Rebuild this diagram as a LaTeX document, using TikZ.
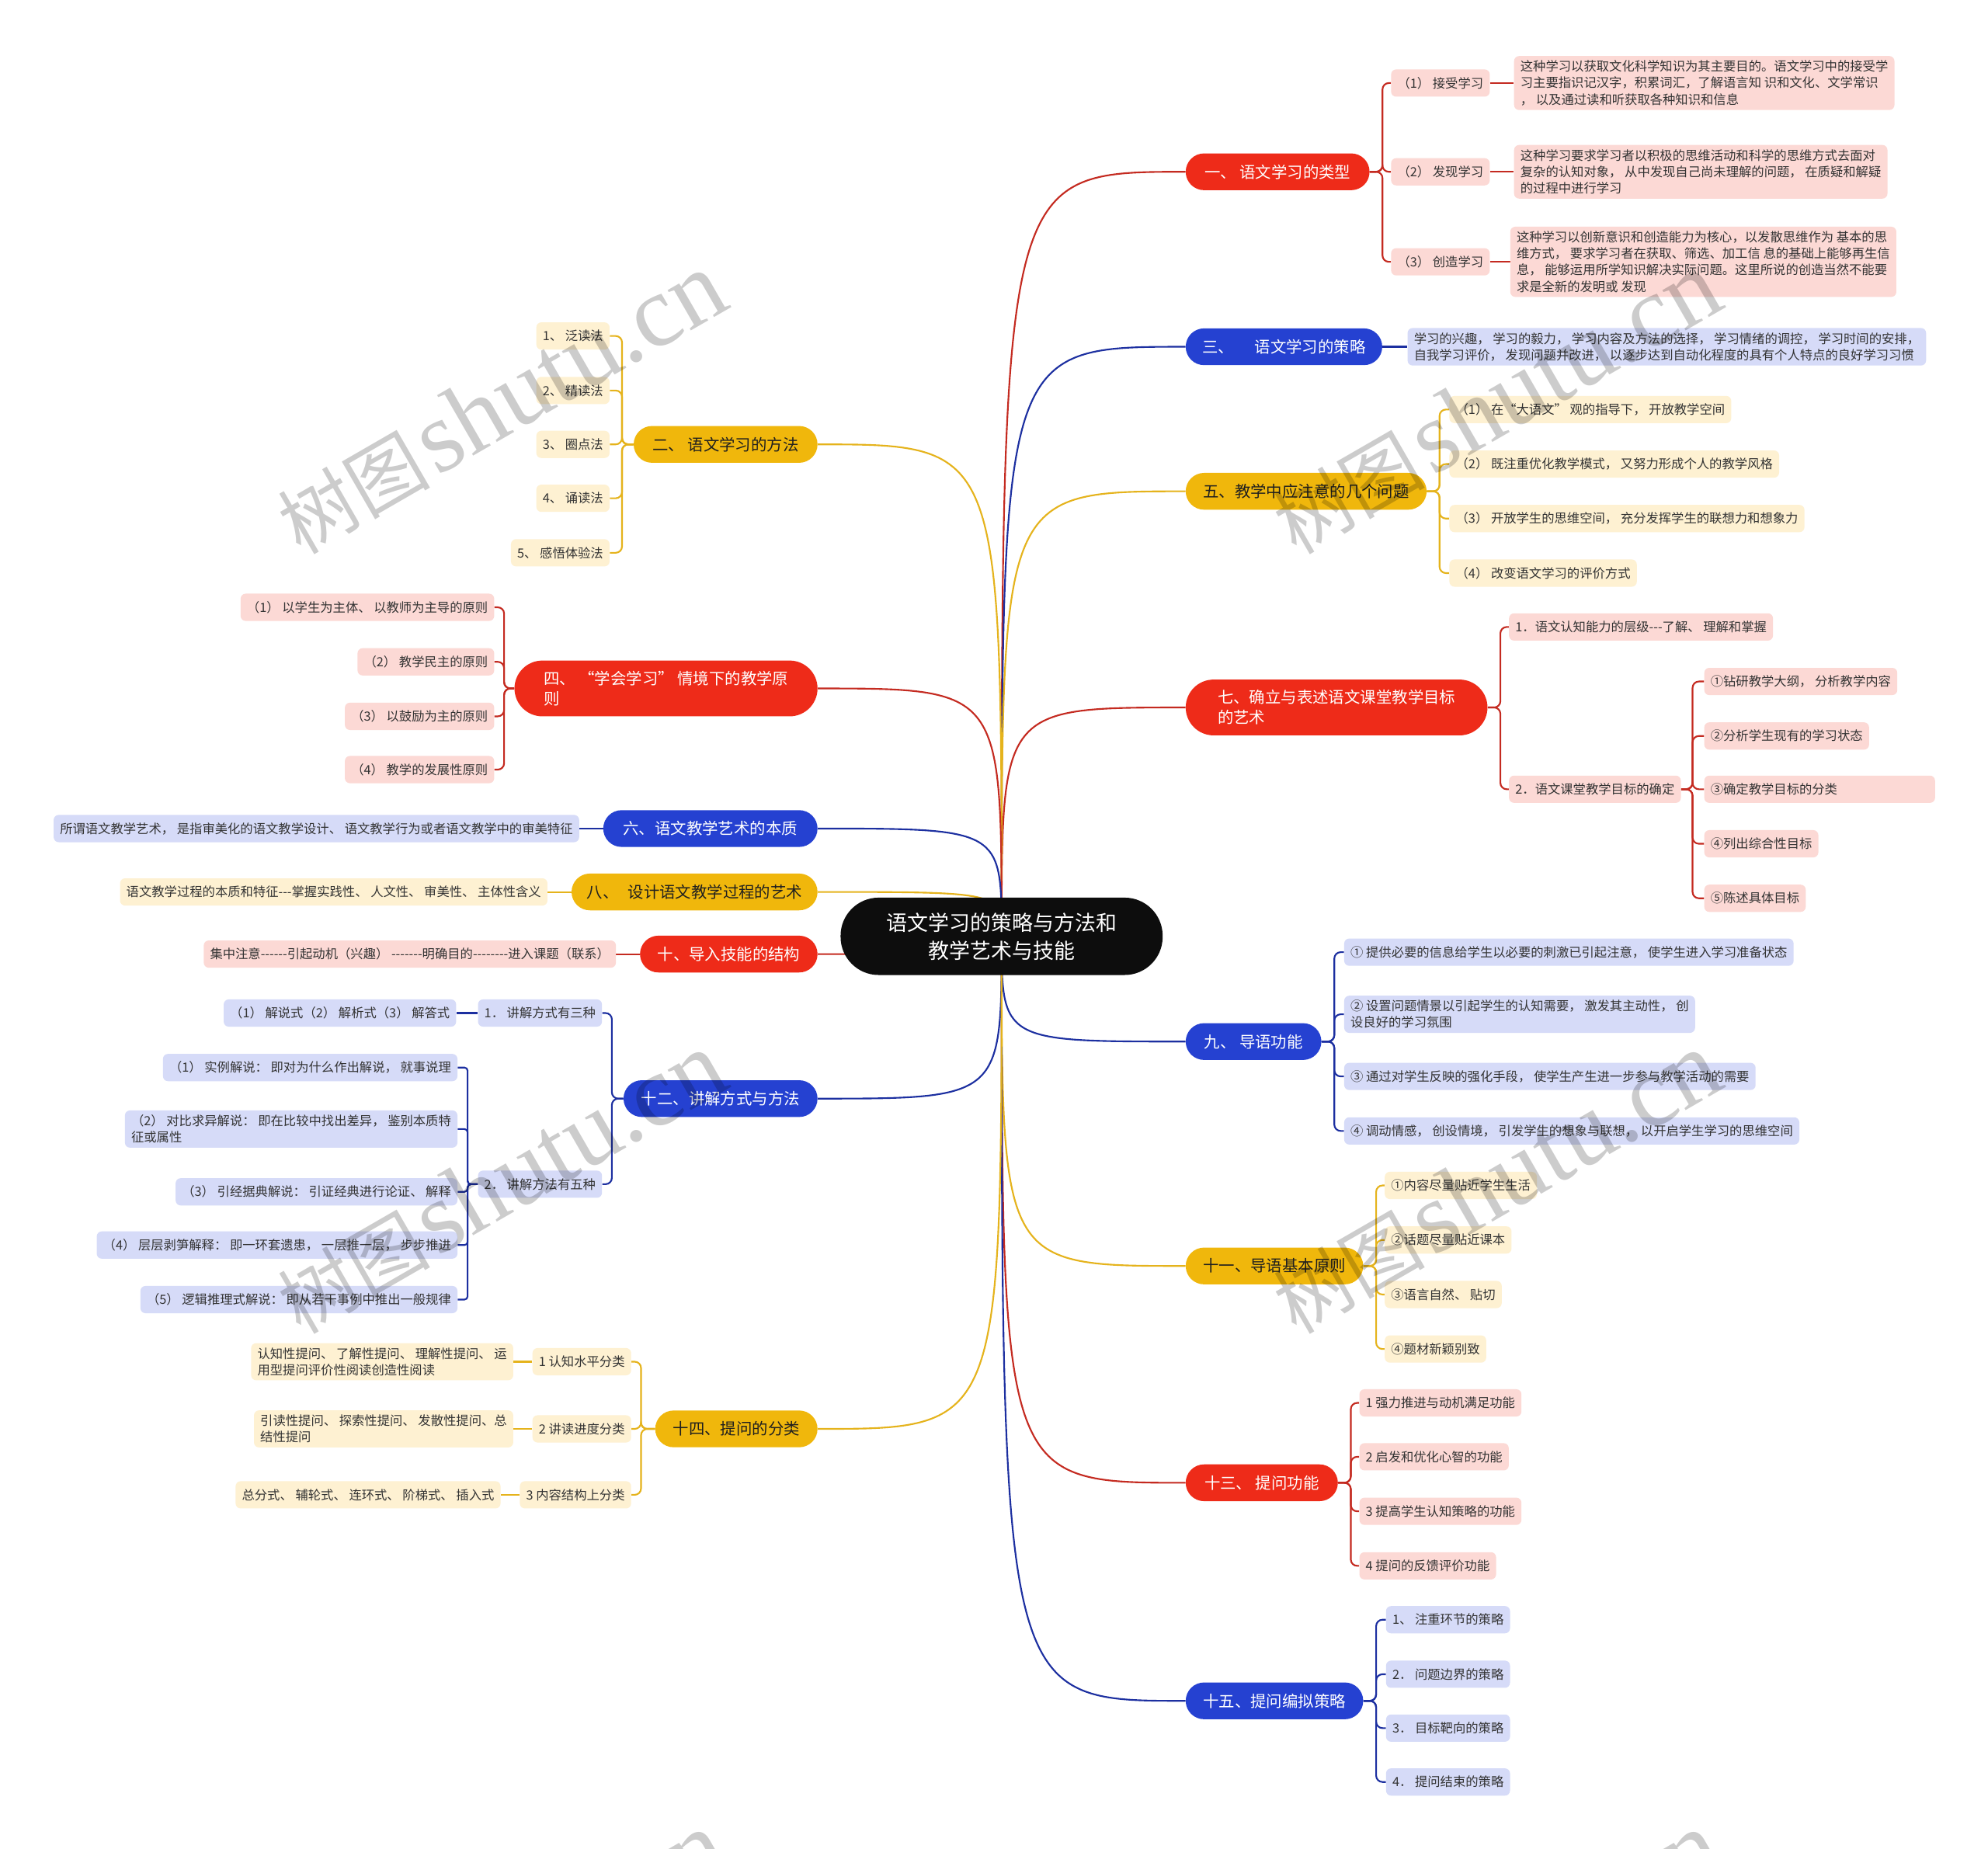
\documentclass[tikz,border=0pt]{standalone}
\usepackage{fontspec}
\newfontfamily\zh{Noto Sans CJK SC}
\newfontfamily\wmserif{Liberation Serif}
\definecolor{mred}{HTML}{EE2B19}
\definecolor{mblue}{HTML}{2541D1}
\definecolor{myel}{HTML}{F0B70C}
\definecolor{lnred}{HTML}{C42A20}
\definecolor{lnblue}{HTML}{1C2FA0}
\definecolor{lnyel}{HTML}{E5B31C}
\definecolor{pinkF}{HTML}{FCD9D5}
\definecolor{blueF}{HTML}{D6DBF8}
\definecolor{yelF}{HTML}{FEF1D2}
\definecolor{tdark}{HTML}{333333}
\pgfdeclarelayer{bg}
\pgfdeclarelayer{lines}
\pgfdeclarelayer{fg}
\pgfsetlayers{bg,lines,main,fg}
\tikzset{
  rootnode/.style={fill=black!95, text=white, rounded corners=30pt, minimum width=254pt, minimum height=61pt, align=center, font=\zh\fontsize{16.5}{22}\selectfont},
  mainnode/.style={rounded corners=14.5pt, minimum height=29pt, inner xsep=8pt, inner ysep=2pt, font=\zh\fontsize{12.5}{16}\selectfont, align=center},
  mR/.style={mainnode, fill=mred, text=white},
  mB/.style={mainnode, fill=mblue, text=white},
  mY/.style={mainnode, fill=myel, text=black!88},
  subnode/.style={rounded corners=4pt, minimum height=21.5pt, inner xsep=5pt, inner ysep=3.5pt, font=\zh\fontsize{10}{13}\selectfont, text=tdark, align=left},
  sR/.style={subnode, fill=pinkF},
  sB/.style={subnode, fill=blueF},
  sY/.style={subnode, fill=yelF},
  lR/.style={draw=lnred, line width=1.3pt},
  lB/.style={draw=lnblue, line width=1.3pt},
  lY/.style={draw=lnyel, line width=1.3pt},
  wm/.style={text=black, text opacity=0.2, rotate=30, inner sep=0pt}
}
\newcommand{\wmtext}{{\zh\fontsize{60}{60}\selectfont 树图}\hspace{0.45em}{\wmserif\fontsize{80}{80}\selectfont shutu.cn}}
\begin{document}
\begin{tikzpicture}[x=1pt,y=-1pt]
\useasboundingbox (0,0) rectangle (1568,1458);
\begin{pgfonlayer}{bg}
\fill[white] (0,0) rectangle (1568,1458);
\end{pgfonlayer}

% root
\node[rootnode] (root) at (790,738.5) {语文学习的策略与方法和\\教学艺术与技能};

% right main nodes
\node[mR, anchor=west, minimum width=145pt] (R1) at (935,135.5) {一、 语文学习的类型};
\node[mB, anchor=west, minimum width=155pt] (R3) at (935,273.5) {三、\hspace{1.3em}语文学习的策略};
\node[mY, anchor=west, minimum width=190pt] (R5) at (935,387.5) {五、教学中应注意的几个问题};
\node[mR, anchor=west, minimum width=238pt, minimum height=44pt, rounded corners=22pt, align=left] (R7) at (935,558) {七、确立与表述语文课堂教学目标\\的艺术};
\node[mB, anchor=west, minimum width=107pt] (R9) at (935,821.5) {九、 导语功能};
\node[mY, anchor=west, minimum width=140pt] (R11) at (935,998.5) {十一、导语基本原则};
\node[mR, anchor=west, minimum width=120pt] (R13) at (935,1169.5) {十三、 提问功能};
\node[mB, anchor=west, minimum width=140pt] (R15) at (935,1341.5) {十五、提问编拟策略};

% left main nodes
\node[mY, anchor=east, minimum width=145pt] (L2) at (645,350.5) {二、 语文学习的方法};
\node[mR, anchor=east, minimum width=239pt, minimum height=44pt, rounded corners=22pt, align=left] (L4) at (645,543) {四、 “学会学习” 情境下的教学原\\则};
\node[mB, anchor=east, minimum width=169pt] (L6) at (645,653.5) {六、语文教学艺术的本质};
\node[mY, anchor=east, minimum width=194pt] (L8) at (645,703.5) {八、\hspace{0.6em}设计语文教学过程的艺术};
\node[mR, anchor=east, minimum width=140pt] (L10) at (645,752.5) {十、导入技能的结构};
\node[mB, anchor=east, minimum width=153pt] (L12) at (645,866.5) {十二、讲解方式与方法};
\node[mY, anchor=east, minimum width=128pt] (L14) at (645,1127) {十四、提问的分类};

% 一 children
\node[sR, anchor=west] (a1) at (1097,65.5) {（1） 接受学习};
\node[sR, anchor=west] (a2) at (1097,135.5) {（2） 发现学习};
\node[sR, anchor=west] (a3) at (1097,206.5) {（3） 创造学习};
\node[sR, anchor=west] (g1) at (1194,65.5) {这种学习以获取文化科学知识为其主要目的。语文学习中的接受学\\习主要指识记汉字，积累词汇，了解语言知 识和文化、文学常识\\， 以及通过读和听获取各种知识和信息};
\node[sR, anchor=west] (g2) at (1194,135.5) {这种学习要求学习者以积极的思维活动和科学的思维方式去面对\\复杂的认知对象， 从中发现自己尚未理解的问题， 在质疑和解疑\\的过程中进行学习};
\node[sR, anchor=west] (g3) at (1191,206.5) {这种学习以创新意识和创造能力为核心，以发散思维作为 基本的思\\维方式， 要求学习者在获取、筛选、加工信 息的基础上能够再生信\\息， 能够运用所学知识解决实际问题。这里所说的创造当然不能要\\求是全新的发明或 发现};

% 三 child
\node[sB, anchor=west] (s3) at (1110,273.5) {学习的兴趣， 学习的毅力， 学习内容及方法的选择， 学习情绪的调控， 学习时间的安排，\\自我学习评价， 发现问题并改进， 以逐步达到自动化程度的具有个人特点的良好学习习惯};

% 五 children
\node[sY, anchor=west] (b1) at (1143,323) {（1） 在“大语文” 观的指导下， 开放教学空间};
\node[sY, anchor=west] (b2) at (1143,366) {（2） 既注重优化教学模式， 又努力形成个人的教学风格};
\node[sY, anchor=west] (b3) at (1143,409) {（3） 开放学生的思维空间， 充分发挥学生的联想力和想象力};
\node[sY, anchor=west] (b4) at (1143,452) {（4） 改变语文学习的评价方式};

% 七 children
\node[sR, anchor=west] (c1) at (1190,494.5) {1．语文认知能力的层级---了解、 理解和掌握};
\node[sR, anchor=west] (c2) at (1190,622.5) {2．语文课堂教学目标的确定};
\node[sR, anchor=west] (d1) at (1344,537.5) {①钻研教学大纲， 分析教学内容};
\node[sR, anchor=west] (d2) at (1344,580.5) {②分析学生现有的学习状态};
\node[sR, anchor=west, text width=172pt] (d3) at (1344,622.5) {③确定教学目标的分类};
\node[sR, anchor=west] (d4) at (1344,665.5) {④列出综合性目标};
\node[sR, anchor=west] (d5) at (1344,708.5) {⑤陈述具体目标};

% 九 children
\node[sB, anchor=west] (e1) at (1060,751) {① 提供必要的信息给学生以必要的刺激已引起注意， 使学生进入学习准备状态};
\node[sB, anchor=west] (e2) at (1060,800) {② 设置问题情景以引起学生的认知需要， 激发其主动性， 创\\设良好的学习氛围};
\node[sB, anchor=west] (e3) at (1060,849) {③ 通过对学生反映的强化手段， 使学生产生进一步参与教学活动的需要};
\node[sB, anchor=west] (e4) at (1060,892) {④ 调动情感， 创设情境， 引发学生的想象与联想， 以开启学生学习的思维空间};

% 十一 children
\node[sY, anchor=west] (f1) at (1092,935) {①内容尽量贴近学生生活};
\node[sY, anchor=west] (f2) at (1092,978) {②话题尽量贴近课本};
\node[sY, anchor=west] (f3) at (1092,1021) {③语言自然、 贴切};
\node[sY, anchor=west] (f4) at (1092,1064) {④题材新颖别致};

% 十三 children
\node[sR, anchor=west] (h1) at (1072,1106.5) {1 强力推进与动机满足功能};
\node[sR, anchor=west] (h2) at (1072,1149) {2 启发和优化心智的功能};
\node[sR, anchor=west] (h3) at (1072,1192) {3 提高学生认知策略的功能};
\node[sR, anchor=west] (h4) at (1072,1235) {4 提问的反馈评价功能};

% 十五 children
\node[sB, anchor=west] (i1) at (1093,1277.5) {1、 注重环节的策略};
\node[sB, anchor=west] (i2) at (1093,1320.5) {2． 问题边界的策略};
\node[sB, anchor=west] (i3) at (1093,1363) {3． 目标靶向的策略};
\node[sB, anchor=west] (i4) at (1093,1405.5) {4． 提问结束的策略};

% 二 children
\node[sY, anchor=east] (j1) at (481,265) {1、 泛读法};
\node[sY, anchor=east] (j2) at (481,308) {2、 精读法};
\node[sY, anchor=east] (j3) at (481,350.5) {3、 圈点法};
\node[sY, anchor=east] (j4) at (481,393) {4、 诵读法};
\node[sY, anchor=east] (j5) at (481,436) {5、 感悟体验法};

% 四 children
\node[sR, anchor=east] (k1) at (390,479) {（1） 以学生为主体、 以教师为主导的原则};
\node[sR, anchor=east] (k2) at (390,522) {（2） 教学民主的原则};
\node[sR, anchor=east] (k3) at (390,565) {（3） 以鼓励为主的原则};
\node[sR, anchor=east] (k4) at (390,607) {（4） 教学的发展性原则};

% single children
\node[sB, anchor=east] (s6) at (457,653.5) {所谓语文教学艺术， 是指审美化的语文教学设计、 语文教学行为或者语文教学中的审美特征};
\node[sY, anchor=east] (s8) at (432,703.5) {语文教学过程的本质和特征---掌握实践性、 人文性、 审美性、 主体性含义};
\node[sR, anchor=east] (s10) at (486,752.5) {集中注意------引起动机（兴趣） -------明确目的--------进入课题（联系）};

% 十二 children
\node[sB, anchor=east] (l1) at (475,799) {1． 讲解方式有三种};
\node[sB, anchor=east] (l2) at (475,934) {2． 讲解方法有五种};
\node[sB, anchor=east] (l1c) at (360,799) {（1） 解说式（2） 解析式（3） 解答式};
\node[sB, anchor=east] (m1) at (361,842) {（1） 实例解说： 即对为什么作出解说， 就事说理};
\node[sB, anchor=east] (m2) at (361,890.5) {（2） 对比求异解说： 即在比较中找出差异， 鉴别本质特\\征或属性};
\node[sB, anchor=east] (m3) at (361,940) {（3） 引经据典解说： 引证经典进行论证、 解释};
\node[sB, anchor=east] (m4) at (361,982) {（4） 层层剥笋解释： 即一环套遗患， 一层推一层， 步步推进};
\node[sB, anchor=east] (m5) at (361,1025) {（5） 逻辑推理式解说： 即从若干事例中推出一般规律};

% 十四 children
\node[sY, anchor=east] (n1) at (498,1074) {1 认知水平分类};
\node[sY, anchor=east] (n2) at (498,1127) {2 讲读进度分类};
\node[sY, anchor=east] (n3) at (498,1179) {3 内容结构上分类};
\node[sY, anchor=east] (o1) at (405,1074) {认知性提问、 了解性提问、 理解性提问、 运\\用型提问评价性阅读创造性阅读};
\node[sY, anchor=east] (o2) at (405,1127) {引读性提问、 探索性提问、 发散性提问、总\\结性提问};
\node[sY, anchor=east] (o3) at (395,1179) {总分式、 辅轮式、 连环式、 阶梯式、 插入式};

\begin{pgfonlayer}{lines}
% root branches
\draw[lR] (root.center) .. controls (root.center |- R1.west) .. (R1.west);
\draw[lB] (root.center) .. controls (root.center |- R3.west) .. (R3.west);
\draw[lY] (root.center) .. controls (root.center |- R5.west) .. (R5.west);
\draw[lR] (root.center) .. controls (root.center |- R7.west) .. (R7.west);
\draw[lB] (root.center) .. controls (root.center |- R9.west) .. (R9.west);
\draw[lY] (root.center) .. controls (root.center |- R11.west) .. (R11.west);
\draw[lR] (root.center) .. controls (root.center |- R13.west) .. (R13.west);
\draw[lB] (root.center) .. controls (root.center |- R15.west) .. (R15.west);
\draw[lY] (root.center) .. controls (root.center |- L2.east) .. (L2.east);
\draw[lR] (root.center) .. controls (root.center |- L4.east) .. (L4.east);
\draw[lB] (root.center) .. controls (root.center |- L6.east) .. (L6.east);
\draw[lY] (root.center) .. controls (root.center |- L8.east) .. (L8.east);
\draw[lR] (root.center) .. controls (root.center |- L10.east) .. (L10.east);
\draw[lB] (root.center) .. controls (root.center |- L12.east) .. (L12.east);
\draw[lY] (root.center) .. controls (root.center |- L14.east) .. (L14.east);

% 一
\foreach \c in {a1,a2,a3} \draw[lR, rounded corners=5pt] (R1.east) -- ++(10,0) |- (\c.west);
\draw[lR] (a1.east) -- (g1.west);
\draw[lR] (a2.east) -- (g2.west);
\draw[lR] (a3.east) -- (g3.west);
% 三
\draw[lB] (R3.east) -- (s3.west);
% 五
\foreach \c in {b1,b2,b3,b4} \draw[lY, rounded corners=5pt] (R5.east) -- ++(10,0) |- (\c.west);
% 七
\foreach \c in {c1,c2} \draw[lR, rounded corners=5pt] (R7.east) -- ++(10,0) |- (\c.west);
\foreach \c in {d1,d2,d3,d4,d5} \draw[lR, rounded corners=5pt] (c2.east) -- ++(9,0) |- (\c.west);
% 九
\foreach \c in {e1,e2,e3,e4} \draw[lB, rounded corners=5pt] (R9.east) -- ++(10,0) |- (\c.west);
% 十一
\foreach \c in {f1,f2,f3,f4} \draw[lY, rounded corners=5pt] (R11.east) -- ++(10,0) |- (\c.west);
% 十三
\foreach \c in {h1,h2,h3,h4} \draw[lR, rounded corners=5pt] (R13.east) -- ++(10,0) |- (\c.west);
% 十五
\foreach \c in {i1,i2,i3,i4} \draw[lB, rounded corners=5pt] (R15.east) -- ++(10,0) |- (\c.west);
% 二
\foreach \c in {j1,j2,j3,j4,j5} \draw[lY, rounded corners=5pt] (L2.west) -- ++(-9,0) |- (\c.east);
% 四
\foreach \c in {k1,k2,k3,k4} \draw[lR, rounded corners=5pt] (L4.west) -- ++(-8,0) |- (\c.east);
% singles
\draw[lB] (L6.west) -- (s6.east);
\draw[lY] (L8.west) -- (s8.east);
\draw[lR] (L10.west) -- (s10.east);
% 十二
\foreach \c in {l1,l2} \draw[lB, rounded corners=5pt] (L12.west) -- ++(-9,0) |- (\c.east);
\draw[lB] (l1.west) -- (l1c.east);
\foreach \c in {m1,m2,m3,m4,m5} \draw[lB, rounded corners=2.5pt] (l2.west) -- ++(-8,0) |- (\c.east);
% 十四
\foreach \c in {n1,n2,n3} \draw[lY, rounded corners=5pt] (L14.west) -- ++(-11,0) |- (\c.east);
\draw[lY] (n1.west) -- (o1.east);
\draw[lY] (n2.west) -- (o2.east);
\draw[lY] (n3.west) -- (o3.east);
\end{pgfonlayer}

\begin{pgfonlayer}{fg}
\node[wm] (w1) at (395,318) {\wmtext};
\node[wm] (w2) at (1180,318) {\wmtext};
\node[wm] (w3) at (395,933) {\wmtext};
\node[wm] (w4) at (1180,933) {\wmtext};
\node[wm] (w5) at (395,1548) {\wmtext};
\node[wm] (w6) at (1180,1548) {\wmtext};
\end{pgfonlayer}
\end{tikzpicture}
\end{document}
